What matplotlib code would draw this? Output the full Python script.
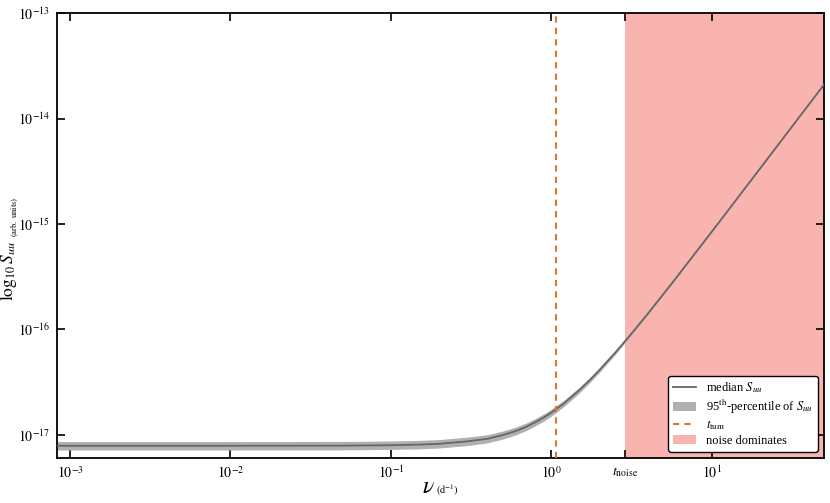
import numpy as np
import matplotlib
matplotlib.use("Agg")
import matplotlib.pyplot as plt

plt.rcParams['font.family'] = ['Liberation Serif', 'DejaVu Serif']
plt.rcParams['mathtext.fontset'] = 'stix'

# frequency grid (d^-1) and median S_uu
nu = [8e-4, 1e-3, 1e-2, 0.05, 0.1, 0.15, 0.2, 0.3, 0.4, 0.5, 0.6, 0.7, 0.8, 0.9, 1.0,
      1.2, 1.5, 1.75, 2.0, 2.5, 3.0, 3.5, 4.0, 5.0, 6.0, 7.0, 8.5, 10, 12.5, 15, 20, 30, 40, 50]
median_e18 = [7.9, 7.9, 7.9, 7.92, 8.0, 8.1, 8.25, 8.7, 9.2, 10.0, 10.9, 12.0, 13.3, 14.7, 16.3,
              20.0, 26.8, 33.6, 41.5, 60.4, 83.5, 110.8, 142, 218, 310, 420, 615, 848, 1320, 1900,
              3370, 7570, 13450, 21000]
# half-width of the 95th-percentile band (dex)
band_dex = [0.04, 0.04, 0.04, 0.04, 0.04, 0.04, 0.04, 0.04, 0.039, 0.038, 0.037, 0.036, 0.035, 0.034, 0.033,
            0.03, 0.027, 0.024, 0.022, 0.018, 0.014, 0.012, 0.01, 0.008, 0.007, 0.006, 0.005, 0.004, 0.003,
            0.003, 0.003, 0.002, 0.002, 0.002]

t_tum = 1.07
t_noise = 2.89
xlim = (8.3e-4, 50)
ylim = (6.05e-18, 1e-13)

xtick_vals = [1e-3, 1e-2, 1e-1, 1, t_noise, 10]
xtick_labels = [r'$10^{-3}$', r'$10^{-2}$', r'$10^{-1}$', r'$10^{0}$', r'$t_{\rm noise}$', r'$10^{1}$']
ytick_vals = [1e-17, 1e-16, 1e-15, 1e-14, 1e-13]
ytick_labels = [r'$10^{-17}$', r'$10^{-16}$', r'$10^{-15}$', r'$10^{-14}$', r'$10^{-13}$']

nu_a = np.array(nu)
med = np.array(median_e18) * 1e-18
bd = np.array(band_dex)
lo = med * 10 ** (-bd)
hi = med * 10 ** (bd)

fig = plt.figure(figsize=(8.3, 5.03), dpi=100)
ax = fig.add_axes([0.0687, 0.0895, 0.9241, 0.8845])

ax.axvspan(t_noise, xlim[1] * 2, color='#f9b4af', lw=0, label='noise dominates', zorder=0)
ax.fill_between(nu_a, lo, hi, color='#b0b0b0', lw=0, label=r'95$^{\rm th}$-percentile of $S_{uu}$', zorder=2)
ax.plot(nu_a, med, color='#666666', lw=1.3, label=r'median $S_{uu}$', zorder=3)
ax.axvline(t_tum, color='#e0762b', ls=(0, (3, 2.5)), lw=1.5, label=r'$t_{\rm tum}$', zorder=4)

ax.set_xscale('log')
ax.set_yscale('log')
ax.set_xlim(*xlim)
ax.set_ylim(*ylim)
ax.set_xticks(xtick_vals)
ax.set_xticklabels(xtick_labels)
ax.set_yticks(ytick_vals)
ax.set_yticklabels(ytick_labels)
ax.minorticks_off()
ax.tick_params(direction='in', length=6, width=1.2, top=True, right=True, labelsize=10, pad=5)
for s in ax.spines.values():
    s.set_linewidth(1.3)

ax.set_xlabel(r'$\nu$', fontsize=17, va='baseline')
ax.xaxis.set_label_coords(0.4837, -0.079)
ax.text(0.494, -0.081, r'$\rm (d^{-1})$', transform=ax.transAxes, fontsize=7.5,
        ha='left', va='baseline')
ax.set_ylabel(r'$\log_{10} S_{uu}$ $_{_{\rm (arb.\ units)}}$', fontsize=12.5)
ax.yaxis.set_label_coords(-0.047, 0.47)

handles, labels = ax.get_legend_handles_labels()
order = [labels.index(l) for l in [r'median $S_{uu}$', r'95$^{\rm th}$-percentile of $S_{uu}$',
                                   r'$t_{\rm tum}$', 'noise dominates']]
leg = ax.legend([handles[i] for i in order], [labels[i] for i in order], loc='lower right',
                fontsize=9, frameon=True, fancybox=True, framealpha=1, edgecolor='black',
                borderaxespad=0.5, labelspacing=0.2, handlelength=1.8, handletextpad=0.8,
                borderpad=0.4)
leg.get_frame().set_linewidth(1.0)

fig.savefig('out.png', dpi=100)
